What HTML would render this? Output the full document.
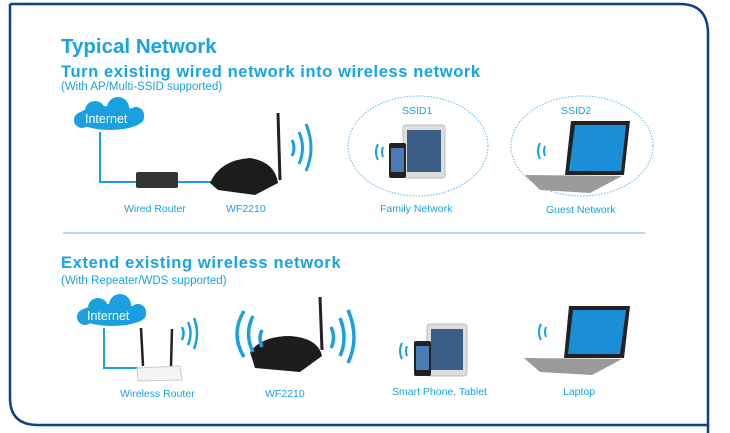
<!DOCTYPE html>
<html><head><meta charset="utf-8"><style>
html,body{margin:0;padding:0;background:#fff;width:730px;height:433px;overflow:hidden}
svg{display:block}
text{font-family:"Liberation Sans",sans-serif;fill:#18a3e4}
</style></head><body>
<svg width="730" height="433" viewBox="0 0 730 433">
<path d="M10 4 H680 Q708 4 708 34 V433" fill="none" stroke="#0d3f8a" stroke-width="2.5"/>
<path d="M10 4 V398 Q10 425 38 425 H708" fill="none" stroke="#0d3f8a" stroke-width="2.5"/>
<text x="61" y="53" font-size="20.5" font-weight="bold">Typical Network</text>
<text x="61" y="77" font-size="16.5" font-weight="bold" letter-spacing="0.6">Turn existing wired network into wireless network</text>
<text x="61" y="90" font-size="11.5">(With AP/Multi-SSID supported)</text>
<line x1="63" y1="233" x2="645" y2="233" stroke="#5ab8e8" stroke-width="1"/>
<text x="61" y="268" font-size="16.5" font-weight="bold" letter-spacing="0.65">Extend existing wireless network</text>
<text x="61" y="284" font-size="11.5">(With Repeater/WDS supported)</text>
<g fill="#1a9fe0"><ellipse cx="110" cy="118" rx="34" ry="12"/><circle cx="95" cy="111" r="10"/><circle cx="118" cy="108" r="11"/><circle cx="136" cy="115" r="8"/><circle cx="82" cy="120" r="8"/></g>
<text x="85" y="123" font-size="12.5" style="fill:#fff">Internet</text>
<path d="M100 132 V182 H140 M178 182 H213" fill="none" stroke="#1a9fe0" stroke-width="2"/>
<rect x="136" y="172" width="42" height="16" rx="2" fill="#333"/>
<path d="M210 183 Q220 160 250 158 Q275 162 278 183 L255 195 L218 190 Z" fill="#1c1c1c"/>
<line x1="278" y1="113" x2="280" y2="180" stroke="#222" stroke-width="3"/>
<g fill="none" stroke="#1a9fe0" stroke-width="3"><path d="M292 140 Q296 148 292 156"/><path d="M299 132 Q306 148 299 164"/><path d="M306 124 Q316 148 306 171"/></g>
<text x="124" y="212" font-size="10.5">Wired Router</text>
<text x="226" y="212" font-size="10.5">WF2210</text>
<ellipse cx="418" cy="146" rx="70" ry="50" fill="none" stroke="#5ab8e8" stroke-dasharray="1.5 1.5"/>
<ellipse cx="582" cy="146" rx="71" ry="50" fill="none" stroke="#5ab8e8" stroke-dasharray="1.5 1.5"/>
<text x="402" y="114" font-size="10.5">SSID1</text>
<text x="561" y="114" font-size="10.5">SSID2</text>
<rect x="403" y="125" width="42" height="53" rx="3" fill="#ddd" stroke="#bbb"/><rect x="407" y="130" width="34" height="42" fill="#3b5d86"/>
<rect x="389" y="143" width="17" height="35" rx="2" fill="#222"/><rect x="391" y="148" width="13" height="24" fill="#4a7bb5"/>
<g fill="none" stroke="#1a9fe0" stroke-width="2"><path d="M378 144 Q374 152 378 160"/><path d="M383 147 Q381 152 383 157"/></g>
<text x="380" y="212" font-size="10.5">Family Network</text>
<path d="M571 121 L630 121 L624 175 L565 175 Z" fill="#222"/><path d="M575 125 L626 125 L621 171 L569 171 Z" fill="#1a8fd8"/>
<path d="M525 175 L622 176 L590 193 L540 190 Z" fill="#9a9a9a"/>
<g fill="none" stroke="#1a9fe0" stroke-width="2"><path d="M540 143 Q536 151 540 159"/><path d="M545 146 Q543 151 545 156"/></g>
<text x="546" y="213" font-size="10.5">Guest Network</text>
<g fill="#1a9fe0"><ellipse cx="112" cy="315" rx="34" ry="11"/><circle cx="98" cy="308" r="10"/><circle cx="120" cy="305" r="11"/><circle cx="138" cy="312" r="8"/><circle cx="85" cy="317" r="8"/></g>
<text x="87" y="320" font-size="12.5" style="fill:#fff">Internet</text>
<path d="M104 328 V368 H138" fill="none" stroke="#1a9fe0" stroke-width="2"/>
<line x1="141" y1="328" x2="143" y2="366" stroke="#222" stroke-width="2.5"/><line x1="172" y1="329" x2="171" y2="366" stroke="#222" stroke-width="2.5"/>
<path d="M137 368 L180 366 L182 380 L138 381 Z" fill="#f4f4f4" stroke="#ccc"/>
<g fill="none" stroke="#1a9fe0" stroke-width="2.5"><path d="M182 327 Q185 333 182 340"/><path d="M188 322 Q193 333 188 345"/><path d="M194 318 Q200 333 194 349"/></g>
<text x="120" y="397" font-size="10.5">Wireless Router</text>
<path d="M250 352 Q262 336 290 336 Q318 338 322 356 L300 372 L255 368 Z" fill="#1c1c1c"/>
<line x1="320" y1="297" x2="322" y2="350" stroke="#222" stroke-width="3"/>
<g fill="none" stroke="#1a9fe0" stroke-width="3.5"><path d="M262 330 Q258 338 262 347"/><path d="M253 316 Q244 334 253 352"/><path d="M244 311 Q230 334 244 357"/><path d="M331 327 Q336 338 331 348"/><path d="M340 318 Q348 338 340 356"/><path d="M348 310 Q360 338 348 363"/></g>
<text x="265" y="397" font-size="10.5">WF2210</text>
<rect x="427" y="324" width="40" height="52" rx="3" fill="#ddd" stroke="#bbb"/><rect x="431" y="329" width="32" height="41" fill="#3b5d86"/>
<rect x="414" y="341" width="17" height="35" rx="2" fill="#222"/><rect x="416" y="346" width="13" height="24" fill="#4a7bb5"/>
<g fill="none" stroke="#1a9fe0" stroke-width="2"><path d="M402 343 Q398 351 402 359"/><path d="M407 346 Q405 351 407 356"/></g>
<text x="392" y="395" font-size="10.5">Smart Phone, Tablet</text>
<path d="M569 306 L630 306 L624 358 L564 358 Z" fill="#222"/><path d="M573 310 L626 310 L620 354 L568 354 Z" fill="#1a8fd8"/>
<path d="M524 358 L622 359 L592 375 L540 372 Z" fill="#9a9a9a"/>
<g fill="none" stroke="#1a9fe0" stroke-width="2"><path d="M541 324 Q537 332 541 340"/><path d="M546 327 Q544 332 546 337"/></g>
<text x="563" y="395" font-size="10.5">Laptop</text>
</svg>
</body></html>
